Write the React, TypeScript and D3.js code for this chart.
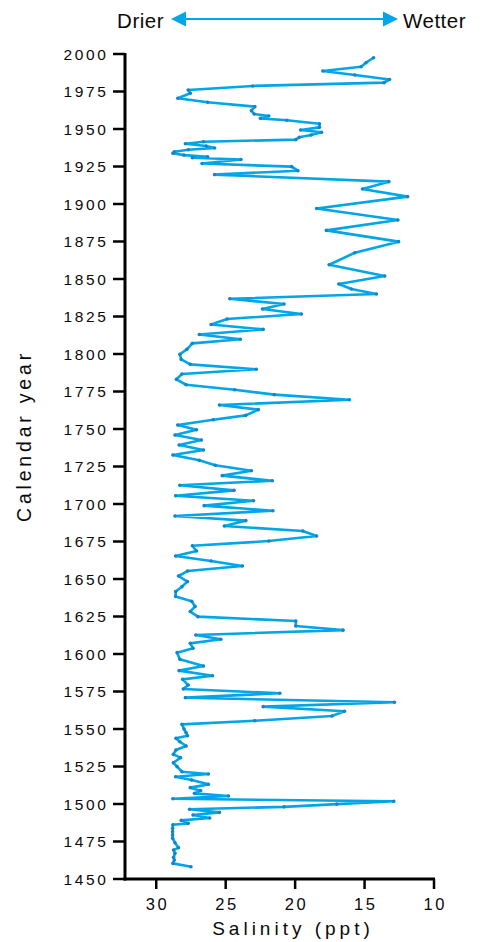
import React from "react";
import * as d3 from "d3";

// Core record, newest sample first
const years = [
  1997.5, 1994.2, 1991.5, 1988.7, 1986.0, 1983.0, 1980.9, 1978.7, 1976.0, 1973.8,
  1970.5, 1967.8, 1964.9, 1962.2, 1960.0, 1958.7, 1957.1, 1955.8, 1953.5, 1951.1,
  1949.3, 1947.8, 1946.0, 1944.5, 1942.9, 1941.5, 1940.2, 1938.7, 1937.3, 1936.2,
  1934.8, 1933.8, 1932.6, 1931.5, 1930.8, 1929.7, 1927.0, 1924.9, 1922.2, 1919.6,
  1914.9, 1910.0, 1904.9, 1897.0, 1889.3, 1882.4, 1874.9, 1867.5, 1859.5, 1852.0,
  1846.7, 1843.3, 1840.0, 1836.8, 1833.3, 1830.0, 1826.7, 1823.3, 1819.7, 1816.4,
  1813.0, 1809.8, 1807.1, 1803.1, 1799.8, 1796.4, 1793.1, 1789.8, 1786.7, 1783.1,
  1779.5, 1776.2, 1772.9, 1769.5, 1766.0, 1762.9, 1759.1, 1756.2, 1752.7, 1749.5,
  1746.0, 1742.7, 1739.3, 1736.0, 1732.7, 1729.1, 1725.8, 1722.2, 1718.9, 1715.5,
  1712.5, 1709.1, 1705.5, 1702.2, 1698.9, 1695.5, 1692.0, 1688.9, 1685.3, 1682.0,
  1678.7, 1675.3, 1672.2, 1668.7, 1665.3, 1662.0, 1658.7, 1655.3, 1652.0, 1648.3,
  1644.9, 1641.6, 1638.4, 1635.1, 1631.7, 1628.3, 1624.9, 1622.0, 1618.7, 1615.9,
  1612.7, 1609.8, 1607.1, 1603.8, 1600.9, 1596.5, 1592.0, 1588.9, 1585.5, 1583.1,
  1579.3, 1576.7, 1573.8, 1570.9, 1567.8, 1564.9, 1561.8, 1558.7, 1555.5, 1553.1,
  1550.0, 1547.5, 1545.5, 1543.8, 1541.5, 1538.7, 1536.0, 1533.1, 1530.9, 1527.5,
  1524.9, 1521.5, 1520.0, 1518.2, 1516.0, 1513.1, 1510.9, 1508.9, 1507.1, 1505.3,
  1503.5, 1501.8, 1499.9, 1498.1, 1496.5, 1494.4, 1492.7, 1490.7, 1489.1, 1487.1,
  1486.2, 1483.8, 1481.5, 1479.3, 1477.1, 1474.2, 1470.9, 1469.3, 1467.1, 1464.5,
  1462.7, 1460.4, 1458.2,
];

const salinity = [
  14.35, 14.9, 15.25, 18.0, 15.7, 13.2, 13.6, 23.05, 27.7, 27.55,
  28.45, 26.3, 22.9, 23.15, 22.95, 21.9, 22.5, 20.6, 18.25, 18.25,
  19.6, 18.1, 18.85, 19.7, 19.95, 26.6, 27.9, 26.4, 25.8, 27.7,
  28.7, 28.8, 28.0, 26.3, 27.4, 23.9, 26.7, 20.25, 19.8, 25.8,
  13.25, 15.15, 11.9, 18.45, 12.6, 17.75, 12.55, 15.7, 17.55, 13.55,
  16.85, 15.95, 14.15, 24.7, 20.8, 22.35, 19.55, 24.9, 26.05, 22.3,
  26.9, 23.95, 27.4, 27.8, 28.3, 28.2, 27.55, 22.8, 28.15, 28.55,
  27.85, 24.35, 21.5, 16.1, 25.45, 22.65, 23.55, 25.9, 28.45, 27.1,
  28.65, 26.75, 28.35, 26.6, 28.8, 26.9, 25.75, 23.15, 25.25, 21.65,
  28.3, 24.4, 28.6, 23.0, 26.55, 21.6, 28.65, 23.55, 25.1, 19.45,
  18.45, 21.9, 27.4, 27.1, 28.6, 26.05, 23.8, 27.75, 28.4, 27.75,
  28.15, 28.6, 28.6, 27.45, 27.2, 27.55, 27.0, 19.95, 19.95, 16.55,
  27.15, 25.35, 27.55, 27.35, 28.5, 28.3, 26.6, 28.35, 25.95, 28.1,
  27.7, 28.05, 21.1, 27.9, 12.85, 22.3, 16.45, 17.35, 22.9, 28.15,
  28.0, 27.85, 27.75, 28.58, 28.3, 27.85, 28.58, 28.77, 28.25, 28.77,
  28.5, 28.15, 26.25, 28.6, 27.45, 26.25, 27.55, 26.8, 27.25, 24.8,
  28.8, 12.9, 17.0, 20.8, 27.6, 25.45, 27.35, 26.15, 28.2, 27.7,
  28.8, 28.82, 28.82, 28.82, 28.82, 28.65, 28.4, 28.75, 28.65, 28.75,
  28.7, 28.8, 27.5,
];

const yearTicks = [1450, 1475, 1500, 1525, 1550, 1575, 1600, 1625, 1650, 1675, 1700, 1725, 1750, 1775, 1800, 1825, 1850, 1875, 1900, 1925, 1950, 1975, 2000];
const salinityTicks = [30, 25, 20, 15, 10];

const W = 485;
const H = 942;
const FONT = "'Liberation Sans', Arial, Helvetica, sans-serif";
const BLUE = "#00a6e8";
const DOT = "#1286c8";
const INK = "#0a0a0a";

export default function App() {
  const x = d3.scaleLinear().domain([32.25, 10]).range([125, 434]);
  const y = d3.scaleLinear().domain([1450, 2000]).range([879, 54]);

  const points = years.map((yr, i) => ({ yr, s: salinity[i] }));
  const line = d3
    .line<{ yr: number; s: number }>()
    .x((d) => x(d.s))
    .y((d) => y(d.yr));

  const arrowY = 19;
  const ax0 = 171;
  const ax1 = 398;

  return (
    <svg
      width={W}
      height={H}
      viewBox={`0 0 ${W} ${H}`}
      style={{ position: "absolute", left: 0, top: 0, background: "#fff" }}
    >
      {/* Direction arrow */}
      <line x1={ax0 + 12} x2={ax1 - 12} y1={arrowY} y2={arrowY} stroke={BLUE} strokeWidth={2} />
      <path d={`M${ax0},${arrowY} L${ax0 + 15},${arrowY - 7.5} L${ax0 + 15},${arrowY + 7.5} Z`} fill={BLUE} />
      <path d={`M${ax1},${arrowY} L${ax1 - 15},${arrowY - 7.5} L${ax1 - 15},${arrowY + 7.5} Z`} fill={BLUE} />
      <text x={164} y={28} textAnchor="end" fontFamily={FONT} fontSize={20.5} letterSpacing={0.5} fill={INK}>Drier</text>
      <text x={403} y={28} textAnchor="start" fontFamily={FONT} fontSize={20.5} letterSpacing={0.5} fill={INK}>Wetter</text>

      {/* Data */}
      <path d={line(points) || ""} fill="none" stroke={BLUE} strokeWidth={2.6} strokeLinejoin="round" />
      {points.map((d, i) => (
        <circle key={i} cx={x(d.s)} cy={y(d.yr)} r={1.8} fill={DOT} />
      ))}

      {/* Y axis */}
      <line x1={125} x2={125} y1={y(2000) - 1} y2={y(1450) + 1.5} stroke="#000" strokeWidth={3} />
      {yearTicks.map((t) => (
        <g key={t}>
          <line x1={113} x2={125} y1={y(t)} y2={y(t)} stroke="#000" strokeWidth={2.5} />
          <text x={108.5} y={y(t) + 5.5} textAnchor="end" fontFamily={FONT} fontSize={15.5} letterSpacing={2.6} fill={INK}>
            {t}
          </text>
        </g>
      ))}

      {/* X axis */}
      <line x1={123.5} x2={x(10) + 1} y1={879} y2={879} stroke="#000" strokeWidth={3} />
      {salinityTicks.map((t) => (
        <g key={t}>
          <line x1={x(t)} x2={x(t)} y1={879} y2={889} stroke="#000" strokeWidth={2.5} />
          <text x={x(t) + 1.3} y={910} textAnchor="middle" fontFamily={FONT} fontSize={16.5} letterSpacing={2.6} fill={INK}>
            {t}
          </text>
        </g>
      ))}

      <text x={293} y={935} textAnchor="middle" fontFamily={FONT} fontSize={19} letterSpacing={4} fill={INK}>
        Salinity (ppt)
      </text>
      <text
        transform={`translate(31, 436) rotate(-90)`}
        textAnchor="middle"
        fontFamily={FONT}
        fontSize={19.5}
        letterSpacing={3.8}
        fill={INK}
      >
        Calendar year
      </text>
    </svg>
  );
}
